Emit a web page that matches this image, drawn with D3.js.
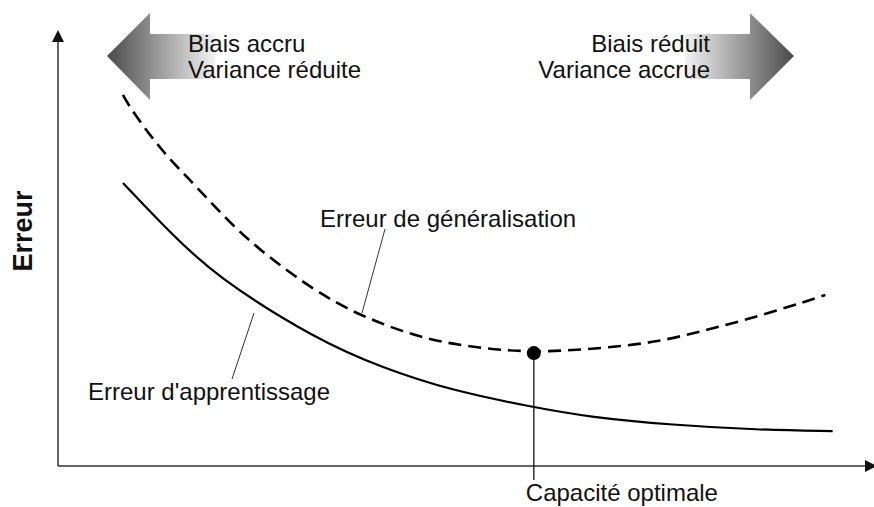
<!DOCTYPE html>
<html>
  <head>
    <meta charset="utf-8">
    <title>Erreur vs capacité</title>
    <script src="https://d3js.org/d3.v7.min.js"></script>
    <style>
      body { margin: 0; background: #fff; }
      text { font-family: "Liberation Sans", Arial, sans-serif; fill: #111; }
    </style>
  </head>
  <body>
    <svg width="874" height="507"></svg>
    <script>
    // capacité (0-100) et erreurs
    var genCapacity = [8.0, 9.2, 12.9, 15.9, 19.1, 23.3, 29.4, 33.5, 37.6, 44.2, 50.4, 58.6, 67.6, 73.8, 79.9, 86.1, 94.5];
    var genError    = [85.1, 81.2, 72.0, 66.3, 59.9, 51.8, 43.1, 38.2, 34.2, 29.6, 27.3, 25.9, 27.1, 28.4, 31.2, 34.2, 39.2];
    var trainCapacity = [8.0, 13.4, 19.3, 31.9, 40.0, 48.3, 58.5, 65.5, 75.7, 86.1, 95.4];
    var trainError    = [64.9, 54.3, 43.6, 28.9, 22.5, 17.4, 13.5, 11.2, 9.4, 8.3, 8.0];
    var optimalCapacity = 58.6;
    var optimalError = 25.9;

    var labels = {
      y: "Erreur",
      gen: "Erreur de généralisation",
      train: "Erreur d'apprentissage",
      optimal: "Capacité optimale",
      left: ["Biais accru", "Variance réduite"],
      right: ["Biais réduit", "Variance accrue"]
    };

    var svg = d3.select("svg");
    var x = d3.scaleLinear().domain([0, 100]).range([58, 870]);
    var y = d3.scaleLinear().domain([0, 100]).range([466, 30]);

    // gradients for the block arrows
    var defs = svg.append("defs");
    var gl = defs.append("linearGradient").attr("id", "gradL")
      .attr("gradientUnits", "userSpaceOnUse")
      .attr("x1", 107).attr("x2", 215).attr("y1", 0).attr("y2", 0);
    gl.append("stop").attr("offset", 0).attr("stop-color", "#4a4a4a");
    gl.append("stop").attr("offset", 1).attr("stop-color", "#f2f2f2");
    var gr = defs.append("linearGradient").attr("id", "gradR")
      .attr("gradientUnits", "userSpaceOnUse")
      .attr("x1", 685).attr("x2", 794).attr("y1", 0).attr("y2", 0);
    gr.append("stop").attr("offset", 0).attr("stop-color", "#f2f2f2");
    gr.append("stop").attr("offset", 1).attr("stop-color", "#4a4a4a");

    svg.append("path")
      .attr("d", "M107,56 L150,13 L150,34 L215,34 L215,79 L150,79 L150,100 Z")
      .attr("fill", "url(#gradL)");
    svg.append("path")
      .attr("d", "M794,56 L750,13 L750,34 L685,34 L685,79 L750,79 L750,100 Z")
      .attr("fill", "url(#gradR)");

    // arrow texts
    svg.selectAll(".lt").data(labels.left).enter().append("text")
      .attr("x", 188).attr("y", function(d, i) { return 52 + i * 26; })
      .attr("font-size", 24).text(function(d) { return d; });
    svg.selectAll(".rt").data(labels.right).enter().append("text")
      .attr("x", 710).attr("y", function(d, i) { return 52 + i * 26; })
      .attr("text-anchor", "end")
      .attr("font-size", 24).text(function(d) { return d; });

    // axes
    svg.append("line").attr("x1", x(0)).attr("x2", x(0)).attr("y1", y(0)).attr("y2", y(100) + 8)
      .attr("stroke", "#333").attr("stroke-width", 1.5);
    svg.append("path").attr("d", "M" + x(0) + "," + y(100) + " l-6,12 l12,0 Z").attr("fill", "#111");
    svg.append("line").attr("x1", x(0)).attr("x2", 866).attr("y1", y(0)).attr("y2", y(0))
      .attr("stroke", "#333").attr("stroke-width", 1.5);
    svg.append("path").attr("d", "M877," + y(0) + " l-12,-6 l0,12 Z").attr("fill", "#111");

    svg.append("text")
      .attr("transform", "translate(32,231) rotate(-90)")
      .attr("text-anchor", "middle")
      .attr("font-size", 27).attr("font-weight", "bold")
      .text(labels.y);

    var line = d3.line()
      .x(function(d) { return x(d[0]); })
      .y(function(d) { return y(d[1]); })
      .curve(d3.curveBasis);

    var genData = d3.zip(genCapacity, genError);
    var trainData = d3.zip(trainCapacity, trainError);

    svg.append("path").datum(genData)
      .attr("d", line)
      .attr("fill", "none").attr("stroke", "#000")
      .attr("stroke-width", 2.6).attr("stroke-dasharray", "13,7");
    svg.append("path").datum(trainData)
      .attr("d", line)
      .attr("fill", "none").attr("stroke", "#000")
      .attr("stroke-width", 2.2);

    // optimal capacity marker
    svg.append("line")
      .attr("x1", x(optimalCapacity)).attr("x2", x(optimalCapacity))
      .attr("y1", y(optimalError)).attr("y2", y(0) + 14)
      .attr("stroke", "#111").attr("stroke-width", 1.3);
    svg.append("circle")
      .attr("cx", x(optimalCapacity)).attr("cy", y(optimalError)).attr("r", 7)
      .attr("fill", "#000");
    svg.append("text")
      .attr("x", x(optimalCapacity) - 8).attr("y", 501)
      .attr("font-size", 24).text(labels.optimal);

    // curve labels with leader lines
    svg.append("line").attr("x1", 385).attr("y1", 229).attr("x2", 362).attr("y2", 313)
      .attr("stroke", "#333").attr("stroke-width", 1);
    svg.append("text").attr("x", 320).attr("y", 227).attr("font-size", 24).text(labels.gen);

    svg.append("line").attr("x1", 254).attr("y1", 313).attr("x2", 232).attr("y2", 379)
      .attr("stroke", "#333").attr("stroke-width", 1);
    svg.append("text").attr("x", 88).attr("y", 400).attr("font-size", 24).text(labels.train);
    </script>
  </body>
</html>
